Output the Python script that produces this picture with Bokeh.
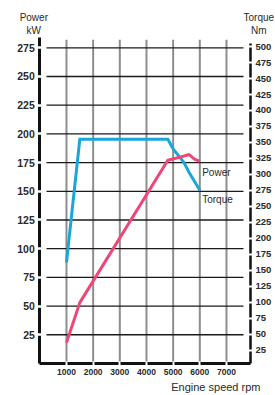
from bokeh.plotting import figure
from bokeh.models import Range1d, LinearAxis, FixedTicker, Label
from bokeh.embed import file_html
from bokeh.resources import INLINE

# ---- data ----
rpm_torque = [1000, 1500, 4800, 5000, 5400, 5600, 6000]
torque_nm = [162, 355, 355, 340, 319, 303, 275]

rpm_power = [1000, 1500, 4800, 5300, 5600, 5800, 6000]
power_kw = [18, 53, 177, 180, 182, 178, 176]

x_ticks = [1000, 2000, 3000, 4000, 5000, 6000, 7000]
power_ticks = [25, 50, 75, 100, 125, 150, 175, 200, 225, 250, 275]
torque_ticks = [25, 50, 75, 100, 125, 150, 175, 200, 225, 250, 275, 300,
                325, 350, 375, 400, 425, 450, 475, 500]

BLUE = "#1ba6da"
PINK = "#ef4677"
FONT = "Liberation Sans"
TXT = "#2a2a2a"

X_END = 7900      # right edge of the chart area (rpm)
P_TOP = 284       # top edge of the chart area (kW)

p = figure(width=275, height=395, output_backend="svg", toolbar_location=None,
           x_range=Range1d(-1474, 8838), y_range=Range1d(-27.9, 316.2),
           x_axis_type=None, y_axis_type=None,
           min_border=0, min_border_left=0, min_border_right=0,
           min_border_top=0, min_border_bottom=0)
p.outline_line_color = None
p.background_fill_color = "white"
p.border_fill_color = "white"
p.grid.visible = False
p.extra_y_ranges = {"torque": Range1d(-46.2, 572.2)}

# grid lines
p.segment(x0=x_ticks, x1=x_ticks, y0=[0] * len(x_ticks), y1=[282] * len(x_ticks),
          line_color="#8e8e8e", line_width=2)
p.segment(x0=[251] * len(power_ticks), x1=[7638] * len(power_ticks),
          y0=power_ticks, y1=power_ticks, line_color="#1a1a1a", line_width=1.3)

# curves
p.line(rpm_torque, torque_nm, y_range_name="torque", line_color=BLUE,
       line_width=3, line_join="miter")
p.line(rpm_power, power_kw, line_color=PINK, line_width=3, line_join="round")


def style_axis(ax, lw, tick_w, tin, tout, standoff, size):
    ax.axis_line_color = "#111111"
    ax.axis_line_width = lw
    ax.major_tick_line_color = "white"
    ax.major_tick_line_width = tick_w
    ax.major_tick_in = tin
    ax.major_tick_out = tout
    ax.minor_tick_line_color = None
    ax.major_label_standoff = standoff
    ax.major_label_text_font = FONT
    ax.major_label_text_font_size = size
    ax.major_label_text_font_style = "bold"
    ax.major_label_text_color = TXT


# bottom axis (engine speed)
xa = LinearAxis(ticker=FixedTicker(ticks=x_ticks), fixed_location=0, bounds=(0, X_END))
style_axis(xa, 3, 2, 2, 2, 4, "8.5px")
p.add_layout(xa, "below")

# left axis (power)
ya = LinearAxis(ticker=FixedTicker(ticks=power_ticks), fixed_location=0,
                bounds=(0, P_TOP))
style_axis(ya, 3, 2.5, 3, 3, 2, "10.5px")
p.add_layout(ya, "left")

# right axis (torque)
ra = LinearAxis(y_range_name="torque", ticker=FixedTicker(ticks=torque_ticks),
                fixed_location=X_END, bounds=(3.9, 505))
style_axis(ra, 2.5, 2, 2, 2, 3, "9.5px")
p.add_layout(ra, "right")


def lab(x, y, t, align="left", size="10px"):
    p.add_layout(Label(x=x, y=y, text=t, text_align=align, text_baseline="middle",
                       text_font=FONT, text_font_size=size, text_color=TXT))


lab(6089, 166.6, "Power")
lab(6089, 143, "Torque")
lab(-225, 295.9, "Power\nkW", align="center")
lab(8211, 295.9, "Torque\nNm", align="center")
lab(8275, -20.6, "Engine speed rpm", align="right", size="11px")

open("out.html", "w").write(file_html(p, INLINE))
